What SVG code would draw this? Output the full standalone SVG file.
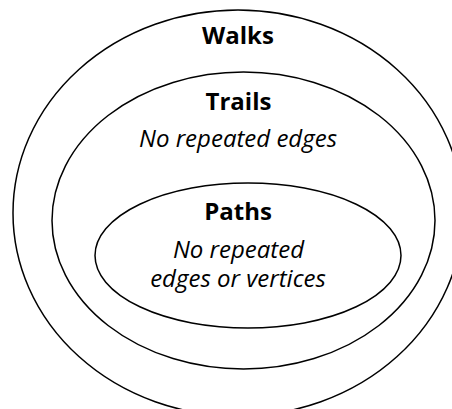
<svg xmlns="http://www.w3.org/2000/svg" width="452" height="409" viewBox="0 0 452 409">
<style>
.set{fill:none;stroke:#000;stroke-width:1.5}
.t{font-family:"Open Sans","Noto Sans",sans-serif;font-size:24px;text-anchor:middle;fill:#000}
.b{font-weight:bold}
.i{font-style:italic}
</style>
<rect width="452" height="409" fill="#fff"/>
<g id="walks">
<ellipse class="set" cx="238" cy="213" rx="225" ry="203"/>
<text class="t b" x="238" y="44">Walks</text>
</g>
<g id="trails">
<ellipse class="set" cx="243.5" cy="220.5" rx="191.5" ry="148.5"/>
<text class="t b" x="238.5" y="110">Trails</text>
<text class="t i" x="238" y="146.5">No repeated edges</text>
</g>
<g id="paths">
<ellipse class="set" cx="248" cy="255.5" rx="153" ry="72.5"/>
<text class="t b" x="238" y="220">Paths</text>
<text class="t i" x="238.5" y="258">No repeated</text>
<text class="t i" x="238" y="286.5">edges or vertices</text>
</g>
<g id="connectors"/>
</svg>
